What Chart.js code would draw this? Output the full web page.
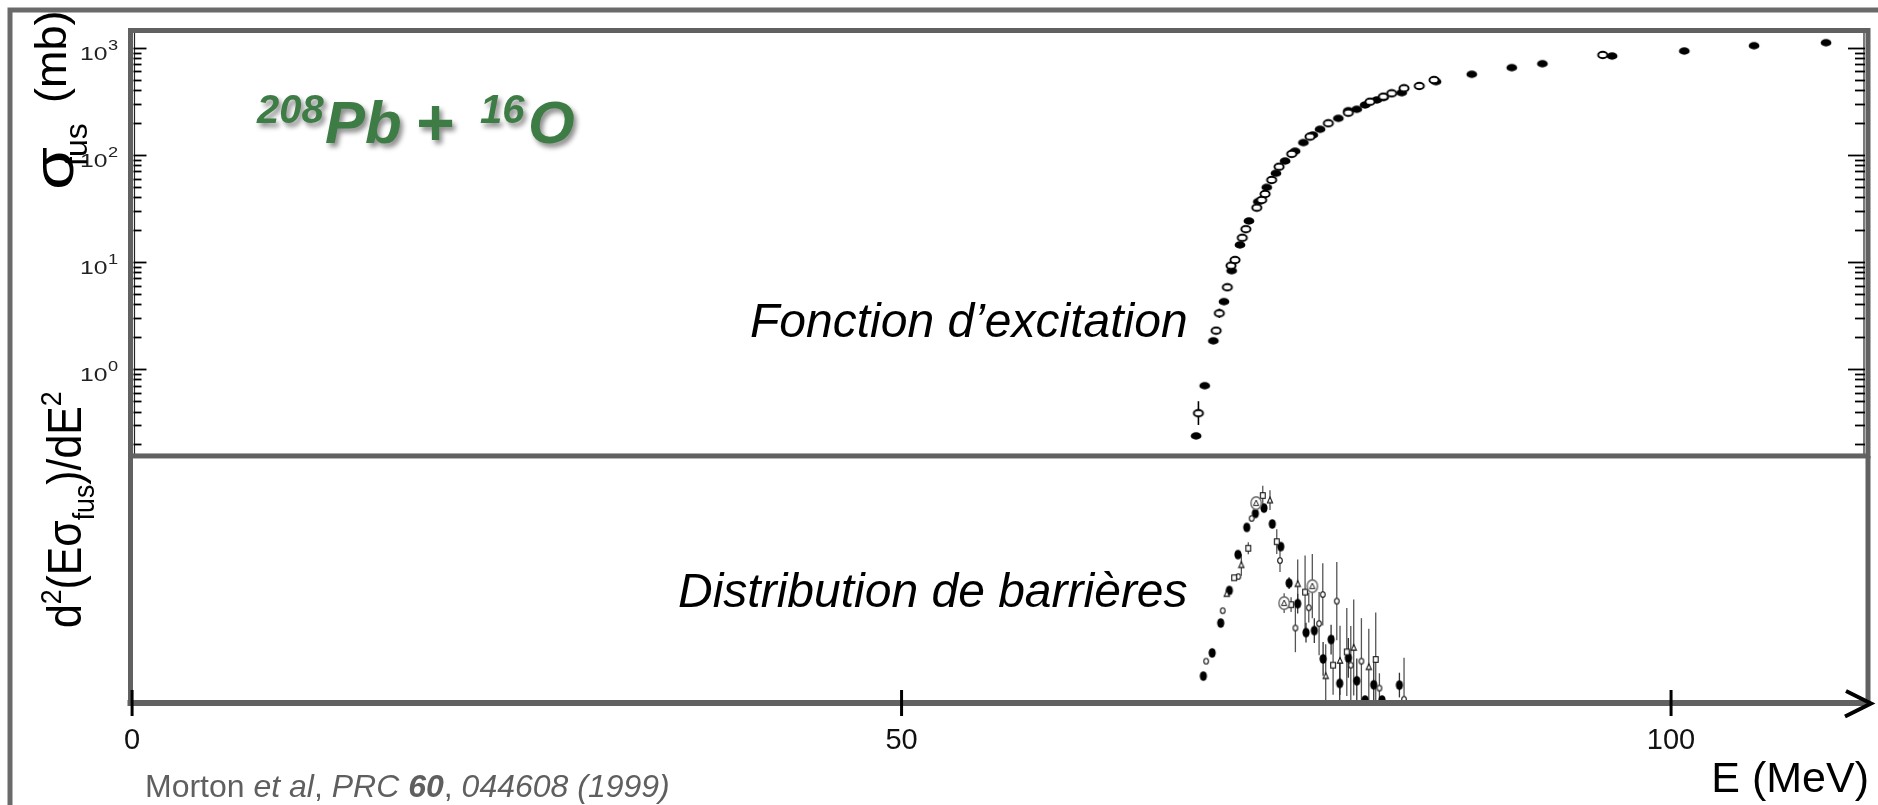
<!DOCTYPE html>
<html>
<head>
<meta charset="utf-8">
<script src="https://cdn.jsdelivr.net/npm/chart.js@4.4.1/dist/chart.umd.min.js"></script>
<style>
  html, body { margin: 0; padding: 0; background: #fff; overflow: hidden; }
  #wrap { position: relative; width: 1878px; height: 805px; }
  canvas { display: block; }
</style>
</head>
<body>
<div id="wrap"><canvas id="c" width="1878" height="805"></canvas></div>
<script>
// ---------- Excitation function, 208Pb + 16O (sigma_fus in mb vs E in MeV) ----------
const fusFilledE     = [69.14, 69.70, 70.26, 70.95, 71.45, 71.99, 72.57, 73.18, 73.73, 74.33,
                        74.92, 75.57, 76.11, 76.72, 77.19, 78.38, 79.03, 79.58, 80.12, 80.88,
                        81.31, 82.50, 84.73, 87.05, 89.65, 91.64, 96.17, 100.86, 105.39, 110.07];
const fusFilledSigma = [0.237, 0.698, 1.83, 4.25, 8.27, 14.4, 24.1, 36.5, 49.7, 67.2,
                        87.5, 108, 130, 153, 173, 219, 258, 266, 292, 325,
                        344, 380, 482, 565, 651, 709, 836, 931, 1044, 1113];

const fusOpenE     = [69.29, 70.44, 70.65, 71.17, 71.41, 71.67, 72.14, 72.37, 73.08, 73.40,
                      73.62, 74.05, 74.53, 75.35, 76.54, 77.73, 79.03, 80.44, 81.31, 81.85,
                      82.65, 83.64, 84.60, 95.56];
const fusOpenSigma = [0.386, 2.28, 3.31, 5.79, 9.22, 10.4, 16.8, 20.2, 32.1, 37.8,
                      43.1, 58.2, 77.4, 102, 148, 197, 247, 313, 349, 375,
                      418, 439, 499, 855];
const fusOpenLow   = [0.30, null, 3.0, null, 8.4, null, null, null, null, null,
                      null, null, null, null, null, null, null, null, null, null,
                      null, null, null, null];
const fusOpenHigh  = [0.50, null, 3.65, null, 10.1, null, null, null, null, null,
                      null, null, null, null, null, null, null, null, null, null,
                      null, null, null, null];

// ---------- Barrier distribution d2(E sigma)/dE2 (arbitrary units) ----------
const bdFilledE   = [69.61, 70.18, 70.74, 71.30, 71.86, 72.43, 72.99, 73.55, 74.09, 74.64,
                     75.18, 75.74, 76.28, 76.82, 77.39, 77.91, 78.47, 79.03, 79.58, 80.12,
                     80.68, 81.22, 82.35];
const bdFilledD   = [54.4, 101.4, 161.9, 227.8, 300.4, 355.4, 383.6, 394.5, 362.3, 316.5,
                     242.5, 201, 142.5, 146.6, 89.3, 128.4, 39.7, 91.3, 45, 6,
                     36.9, 6, 36.3];
const bdFilledErr = [0, 0, 0, 0, 0, 0, 0, 0, 0, 0,
                     12, 20, 20, 25, 34, 30, 40, 40, 45, 0,
                     45, 0, 25];

const bdCircleE   = [69.79, 70.87, 71.88, 72.75, 74.59, 75.59, 76.46, 77.13, 77.37, 78.28,
                     79.19, 79.88, 81.05, 82.65];
const bdCircleD   = [84.7, 186.9, 256, 373.6, 288.3, 151.8, 192.9, 160.7, 219.7, 206.2,
                     76.6, 84.7, 30.2, 7.5];
const bdCircleErr = [0, 0, 0, 0, 23, 49, 30, 64, 63, 79,
                     79, 87, 30, 84];

const bdSquareE   = [71.61, 72.53, 73.47, 74.38, 75.31, 76.22, 78.04, 78.93, 80.81];
const bdSquareD   = [253.4, 313.1, 419.9, 326.6, 199, 224.4, 76.6, 103.4, 88.1];
const bdSquareErr = [0, 12, 20, 25, 15, 74, 60, 89, 95];

const bdTriE      = [71.13, 72.08, 73.94, 75.74, 77.56, 78.49, 79.38, 80.36];
const bdTriD      = [221.2, 279.6, 410.7, 241.3, 55, 86.1, 112.3, 73.2];
const bdTriErr    = [0, 22, 20, 49, 64, 70, 97, 77];

const bdRingE     = [73.04, 74.86, 76.69];
const bdRingD     = [404.6, 202.2, 236.5];
const bdRingErr   = [0, 20, 65];

// ---------- axes ----------
const energyTicks   = [0, 50, 100];
const sigmaExponents = [0, 1, 2, 3];
const sigmaMantissas = [1, 2, 3, 4, 5, 6, 7, 8, 9];
const sigmaTickMin = 0.2, sigmaTickMax = 1000;
const energyRange = [-0.2, 112.7];
const sigmaRange  = [7.6e-4, 1372];     // log axis spans both panels; data live in the upper one
const bdRange     = [0, 1356];          // linear axis spans both panels; data live in the lower one
const bdPanelTop  = 500;                // value at the panel divider

const FONT = "'Liberation Sans', Arial, Helvetica, sans-serif";

// ---------- marker sprites ----------
function sprite(w, h, paint) {
  const c = document.createElement('canvas');
  c.width = w; c.height = h;
  paint(c.getContext('2d'), w / 2, h / 2);
  return c;
}
const mkFilledWide = sprite(14, 10, (g, cx, cy) => {
  g.fillStyle = '#000'; g.beginPath(); g.ellipse(cx, cy, 5.4, 3.7, 0, 0, Math.PI * 2); g.fill();
});
const mkOpenWide = sprite(14, 10, (g, cx, cy) => {
  g.fillStyle = '#fff'; g.strokeStyle = '#000'; g.lineWidth = 1.9;
  g.beginPath(); g.ellipse(cx, cy, 4.6, 3.2, 0, 0, Math.PI * 2); g.fill(); g.stroke();
});
const mkFilledTall = sprite(10, 12, (g, cx, cy) => {
  g.fillStyle = '#000'; g.beginPath(); g.ellipse(cx, cy, 3.6, 4.8, 0, 0, Math.PI * 2); g.fill();
});
const mkSmallCircle = sprite(8, 9, (g, cx, cy) => {
  g.fillStyle = '#fff'; g.strokeStyle = '#111'; g.lineWidth = 1.1;
  g.beginPath(); g.ellipse(cx, cy, 2.3, 2.8, 0, 0, Math.PI * 2); g.fill(); g.stroke();
});
const mkSquare = sprite(8, 9, (g, cx, cy) => {
  g.fillStyle = '#fff'; g.strokeStyle = '#111'; g.lineWidth = 1.1;
  g.fillRect(cx - 2.4, cy - 2.8, 4.8, 5.6); g.strokeRect(cx - 2.4, cy - 2.8, 4.8, 5.6);
});
const mkTri = sprite(8, 9, (g, cx, cy) => {
  g.fillStyle = '#fff'; g.strokeStyle = '#111'; g.lineWidth = 1.1;
  g.beginPath(); g.moveTo(cx, cy - 3); g.lineTo(cx + 2.6, cy + 2.6); g.lineTo(cx - 2.6, cy + 2.6); g.closePath();
  g.fill(); g.stroke();
});
const mkRingTri = sprite(14, 16, (g, cx, cy) => {
  g.fillStyle = '#fff'; g.strokeStyle = '#666'; g.lineWidth = 1.4;
  g.beginPath(); g.ellipse(cx, cy, 5.2, 6.3, 0, 0, Math.PI * 2); g.fill(); g.stroke();
  g.strokeStyle = '#222'; g.lineWidth = 1;
  g.beginPath(); g.moveTo(cx, cy - 3); g.lineTo(cx + 2.6, cy + 2.4); g.lineTo(cx - 2.6, cy + 2.4); g.closePath(); g.stroke();
});

// ---------- datasets ----------
const pts = (xs, ys) => xs.map((e, i) => ({ x: e, y: ys[i] }));
const symErr = (ys, es) => ys.map((v, i) => es[i] ? [Math.max(0, v - es[i]), v + es[i]] : null);
const pairErr = (lo, hi) => lo.map((l, i) => l === null ? null : [l, hi[i]]);

function set(label, data, yAxisID, style, err, barColor) {
  return {
    label, data, yAxisID, pointStyle: style, pointRadius: 4, pointHoverRadius: 4,
    showLine: false, errBars: err, barColor
  };
}

const datasets = [
  set('fus-open', pts(fusOpenE, fusOpenSigma), 'y', mkOpenWide, pairErr(fusOpenLow, fusOpenHigh), '#000'),
  set('fus-filled', pts(fusFilledE, fusFilledSigma), 'y', mkFilledWide, null, '#000'),
  set('bd-ring', pts(bdRingE, bdRingD), 'y2', mkRingTri, symErr(bdRingD, bdRingErr), '#555'),
  set('bd-tri', pts(bdTriE, bdTriD), 'y2', mkTri, symErr(bdTriD, bdTriErr), '#555'),
  set('bd-square', pts(bdSquareE, bdSquareD), 'y2', mkSquare, symErr(bdSquareD, bdSquareErr), '#555'),
  set('bd-circle', pts(bdCircleE, bdCircleD), 'y2', mkSmallCircle, symErr(bdCircleD, bdCircleErr), '#555'),
  set('bd-filled', pts(bdFilledE, bdFilledD), 'y2', mkFilledTall, symErr(bdFilledD, bdFilledErr), '#333')
];

// ---------- drawing helpers ----------
function rich(ctx, x, y, parts) {
  let cx = x;
  for (const p of parts) {
    ctx.font = `${p.style || ''} ${p.size}px ${FONT}`;
    ctx.fillText(p.t, cx, y + (p.dy || 0));
    cx += ctx.measureText(p.t).width + (p.gap || 0);
  }
  return cx;
}

const errorBars = {
  id: 'errorBars',
  beforeDatasetsDraw(chart) {
    const { ctx, scales } = chart;
    const divY = scales.y2.getPixelForValue(bdPanelTop);
    const axY = scales.y2.getPixelForValue(0);
    chart.data.datasets.forEach((ds, di) => {
      if (!ds.errBars) return;
      const meta = chart.getDatasetMeta(di);
      const sc = scales[ds.yAxisID];
      ctx.save();
      ctx.strokeStyle = ds.barColor;
      ctx.lineWidth = ds.yAxisID === 'y' ? 1.6 : 1.3;
      ds.errBars.forEach((b, i) => {
        if (!b) return;
        const px = meta.data[i].x;
        let y1 = sc.getPixelForValue(b[0]), y2 = sc.getPixelForValue(b[1]);
        if (ds.yAxisID === 'y2') { y1 = Math.min(y1, axY); y2 = Math.max(y2, divY); }
        ctx.beginPath(); ctx.moveTo(px, y1); ctx.lineTo(px, y2); ctx.stroke();
      });
      ctx.restore();
    });
  }
};

const frame = {
  id: 'frame',
  afterDatasetsDraw(chart) {
    const { ctx, chartArea: a, scales: { x, y, y2 } } = chart;
    const divY = y2.getPixelForValue(bdPanelTop);
    const axY = y2.getPixelForValue(0);
    const L = a.left + 1.5, R = a.right + 1.5, T = a.top - 2.5;
    ctx.save();

    // thin inner frame lines of the cross-section plot
    ctx.strokeStyle = '#222'; ctx.lineWidth = 1.2;
    ctx.beginPath(); ctx.moveTo(L + 4, T); ctx.lineTo(L + 4, divY); ctx.stroke();
    ctx.beginPath(); ctx.moveTo(R - 4, T); ctx.lineTo(R - 4, divY); ctx.stroke();

    // log ticks, pointing inward on both sides
    ctx.strokeStyle = '#000'; ctx.lineWidth = 1.8;
    for (const ex of [-1, ...sigmaExponents]) {
      for (const m of sigmaMantissas) {
        const v = m * Math.pow(10, ex);
        if (v < sigmaTickMin - 1e-9 || v > sigmaTickMax + 1e-9) continue;
        const py = Math.round(y.getPixelForValue(v)) + 0.5;
        const major = m === 1;
        ctx.beginPath(); ctx.moveTo(L + 3, py); ctx.lineTo(L + 3 + (major ? 13 : 8), py); ctx.stroke();
        ctx.beginPath(); ctx.moveTo(R - 3, py); ctx.lineTo(R - 3 - (major ? 17 : 10), py); ctx.stroke();
      }
    }

    // panel borders
    ctx.strokeStyle = '#616161'; ctx.lineWidth = 5;
    ctx.strokeRect(L, T, R - L, divY - T);
    ctx.beginPath(); ctx.moveTo(L, divY); ctx.lineTo(L, axY); ctx.stroke();
    ctx.beginPath(); ctx.moveTo(R, divY); ctx.lineTo(R, axY); ctx.stroke();

    // energy axis
    ctx.lineWidth = 6;
    ctx.beginPath(); ctx.moveTo(L - 3, axY); ctx.lineTo(R + 2, axY); ctx.stroke();
    ctx.strokeStyle = '#000'; ctx.lineWidth = 4; ctx.lineJoin = 'miter';
    ctx.beginPath(); ctx.moveTo(R - 22, axY - 12); ctx.lineTo(R + 3, axY + 0.5); ctx.lineTo(R - 23, axY + 13.5); ctx.stroke();

    ctx.lineWidth = 3;
    ctx.fillStyle = '#111';
    ctx.font = `29px ${FONT}`; ctx.textAlign = 'center'; ctx.textBaseline = 'alphabetic';
    for (const v of energyTicks) {
      const px = x.getPixelForValue(v);
      ctx.beginPath(); ctx.moveTo(px, axY - 13); ctx.lineTo(px, axY + 13); ctx.stroke();
      ctx.fillText(String(v), px, axY + 46);
    }

    // outer slide frame
    ctx.strokeStyle = '#6a6a6a'; ctx.lineWidth = 5;
    ctx.beginPath(); ctx.moveTo(10, 805); ctx.lineTo(10, 10); ctx.lineTo(1878, 10); ctx.stroke();
    ctx.restore();
  },

  afterDraw(chart) {
    const { ctx, scales: { y } } = chart;
    ctx.save();
    ctx.textBaseline = 'alphabetic'; ctx.textAlign = 'left';

    // decade labels 10^n
    ctx.fillStyle = '#222';
    for (const ex of sigmaExponents) {
      const py = y.getPixelForValue(Math.pow(10, ex));
      ctx.save(); ctx.translate(80, py + 12); ctx.scale(1.3, 1);
      ctx.font = `19px ${FONT}`; ctx.fillText('10', 0, 0); ctx.restore();
      ctx.save(); ctx.translate(108, py + 2); ctx.scale(1.3, 1);
      ctx.font = `14px ${FONT}`; ctx.fillText(String(ex), 0, 0); ctx.restore();
    }

    // vertical axis titles
    ctx.fillStyle = '#000';
    const vtext = (px, py, parts, stretch) => {
      ctx.save(); ctx.translate(px, py); ctx.rotate(-Math.PI / 2); ctx.scale(stretch || 1, 1);
      rich(ctx, 0, 0, parts); ctx.restore();
    };
    vtext(73, 190, [{ t: 'σ', size: 58 }], 1.2);
    vtext(87, 166, [{ t: 'fus', size: 32 }]);
    vtext(66, 103, [{ t: '(mb)', size: 45 }]);
    vtext(81, 628, [
      { t: 'd', size: 48 }, { t: '2', size: 30, dy: -20 }, { t: '(E', size: 48 }, { t: 'σ', size: 48 },
      { t: 'fus', size: 30, dy: 13 }, { t: ')/dE', size: 48 }, { t: '2', size: 30, dy: -20 }
    ], 0.89);

    // panel captions
    ctx.font = `italic 48px ${FONT}`;
    ctx.fillText('Fonction d’excitation', 750, 337);
    ctx.fillText('Distribution de barrières', 678, 607);

    // reaction title
    ctx.save();
    ctx.fillStyle = '#3d7d45';
    ctx.shadowColor = 'rgba(0,0,0,0.45)'; ctx.shadowOffsetX = 3; ctx.shadowOffsetY = 4; ctx.shadowBlur = 5;
    ctx.font = `italic bold 40px ${FONT}`; ctx.fillText('208', 257, 123);
    ctx.font = `italic bold 60px ${FONT}`; ctx.fillText('Pb', 325, 143);
    ctx.font = `italic bold 66px ${FONT}`; ctx.fillText('+', 415, 145);
    ctx.font = `italic bold 40px ${FONT}`; ctx.fillText('16', 480, 123);
    ctx.font = `italic bold 60px ${FONT}`; ctx.fillText('O', 528, 143);
    ctx.restore();

    // energy axis title
    ctx.font = `43px ${FONT}`; ctx.textAlign = 'right';
    ctx.fillText('E (MeV)', 1869, 792);

    // reference
    ctx.textAlign = 'left'; ctx.fillStyle = '#5f5f5f';
    rich(ctx, 145, 797, [
      { t: 'Morton ', size: 32 }, { t: 'et al', size: 32, style: 'italic' }, { t: ', ', size: 32 },
      { t: 'PRC ', size: 32, style: 'italic' }, { t: '60', size: 32, style: 'italic bold' },
      { t: ', ', size: 32 }, { t: '044608 (1999)', size: 32, style: 'italic' }
    ]);
    ctx.restore();
  }
};

new Chart(document.getElementById('c'), {
  type: 'scatter',
  data: { datasets },
  options: {
    responsive: false,
    animation: false,
    devicePixelRatio: 1,
    layout: { padding: { left: 129, right: 11.5, top: 33, bottom: 102 } },
    plugins: { legend: { display: false }, tooltip: { enabled: false } },
    scales: {
      x:  { type: 'linear', min: energyRange[0], max: energyRange[1], display: false },
      y:  { type: 'logarithmic', min: sigmaRange[0], max: sigmaRange[1], display: false },
      y2: { type: 'linear', min: bdRange[0], max: bdRange[1], display: false }
    }
  },
  plugins: [errorBars, frame]
});
</script>
</body>
</html>
